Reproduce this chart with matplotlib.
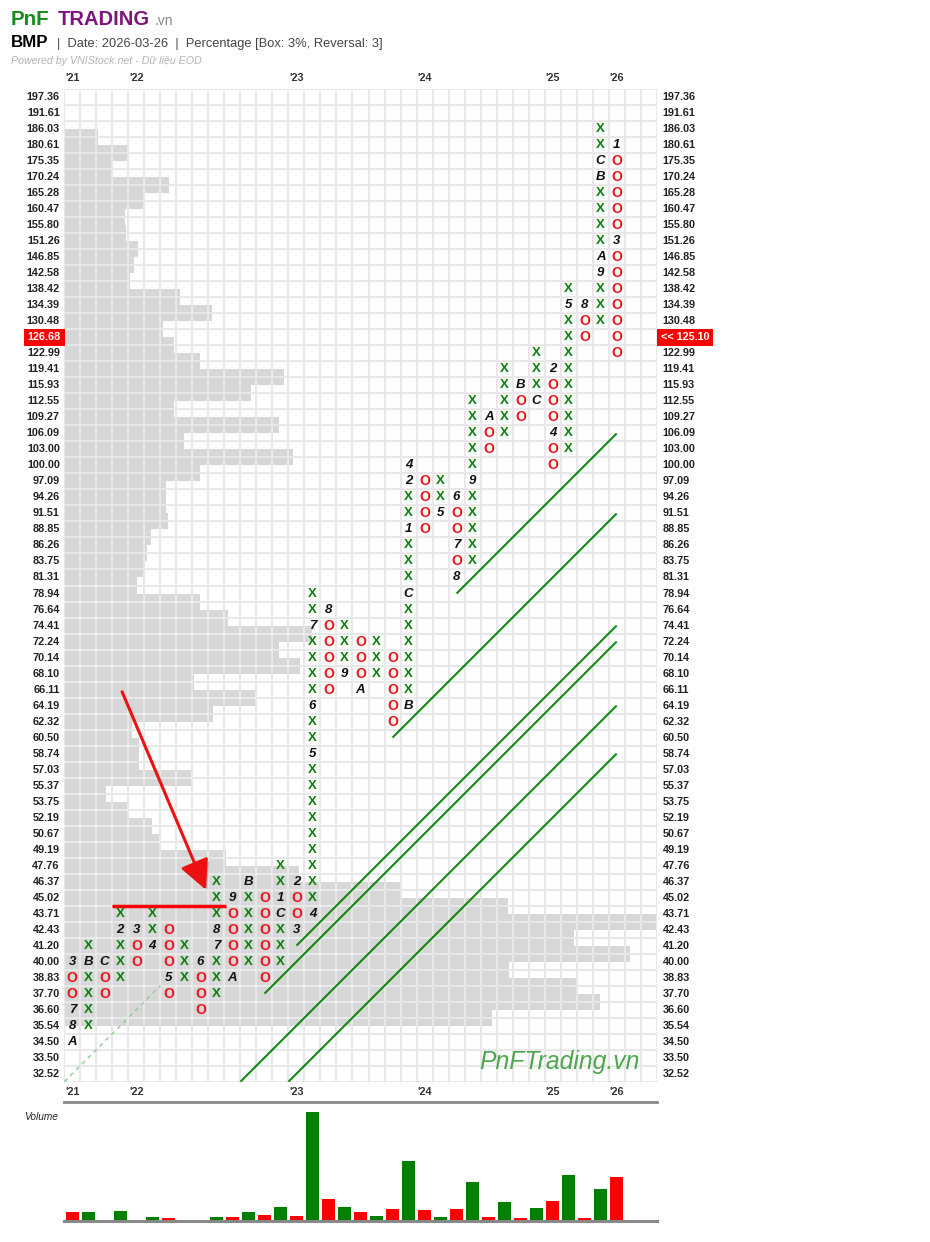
import matplotlib
matplotlib.use("Agg")
import matplotlib.pyplot as plt
import matplotlib.transforms as mtransforms
import matplotlib.patheffects as pe
import numpy as np

plt.rcParams['font.family'] = ['Liberation Sans', 'DejaVu Sans']

# ---------------- data ----------------
box_levels = [32.52, 33.50, 34.50, 35.54, 36.60, 37.70, 38.83, 40.00, 41.20, 42.43,
              43.71, 45.02, 46.37, 47.76, 49.19, 50.67, 52.19, 53.75, 55.37, 57.03,
              58.74, 60.50, 62.32, 64.19, 66.11, 68.10, 70.14, 72.24, 74.41, 76.64,
              78.94, 81.31, 83.75, 86.26, 88.85, 91.51, 94.26, 97.09, 100.00, 103.00,
              106.09, 109.27, 112.55, 115.93, 119.41, 122.99, 126.68, 130.48, 134.39, 138.42,
              142.58, 146.85, 151.26, 155.80, 160.47, 165.28, 170.24, 175.35, 180.61, 186.03,
              191.61, 197.36]

col_type = ['O', 'X', 'O', 'X', 'O', 'X', 'O', 'X', 'O', 'X',
            'O', 'X', 'O', 'X', 'O', 'X', 'O', 'X', 'O', 'X',
            'O', 'X', 'O', 'X', 'O', 'X', 'O', 'X', 'O', 'X',
            'O', 'X', 'O', 'X', 'O']
col_low = [34.50, 35.54, 37.70, 38.83, 40.00, 41.20, 37.70, 38.83, 36.60, 37.70,
           38.83, 40.00, 38.83, 40.00, 42.43, 43.71, 66.11, 68.10, 66.11, 68.10,
           62.32, 64.19, 88.85, 91.51, 81.31, 83.75, 103.00, 106.09, 109.27, 112.55,
           100.00, 103.00, 126.68, 130.48, 122.99]
col_high = [40.00, 41.20, 40.00, 43.71, 42.43, 43.71, 42.43, 41.20, 40.00, 46.37,
            45.02, 46.37, 45.02, 47.76, 46.37, 78.94, 76.64, 74.41, 72.24, 72.24,
            70.14, 100.00, 97.09, 97.09, 94.26, 112.55, 109.27, 119.41, 115.93, 122.99,
            119.41, 138.42, 134.39, 186.03, 180.61]

# month markers (column, price, label)
month_marks = [(0, 40.00, '3'), (0, 36.60, '7'), (0, 35.54, '8'), (0, 34.50, 'A'),
               (1, 40.00, 'B'), (2, 40.00, 'C'), (3, 42.43, '2'), (4, 42.43, '3'),
               (5, 41.20, '4'), (6, 38.83, '5'), (8, 40.00, '6'), (9, 41.20, '7'),
               (9, 42.43, '8'), (10, 45.02, '9'), (10, 38.83, 'A'), (11, 46.37, 'B'),
               (13, 43.71, 'C'), (13, 45.02, '1'), (14, 46.37, '2'), (14, 42.43, '3'),
               (15, 43.71, '4'), (15, 58.74, '5'), (15, 64.19, '6'), (15, 74.41, '7'),
               (16, 76.64, '8'), (17, 68.10, '9'), (18, 66.11, 'A'), (21, 64.19, 'B'),
               (21, 78.94, 'C'), (21, 88.85, '1'), (21, 97.09, '2'), (21, 100.00, '4'),
               (23, 91.51, '5'), (24, 94.26, '6'), (24, 86.26, '7'), (24, 81.31, '8'),
               (25, 97.09, '9'), (26, 109.27, 'A'), (28, 115.93, 'B'), (29, 112.55, 'C'),
               (30, 119.41, '2'), (30, 106.09, '4'), (31, 134.39, '5'), (32, 134.39, '8'),
               (33, 142.58, '9'), (33, 146.85, 'A'), (33, 170.24, 'B'), (33, 175.35, 'C'),
               (34, 180.61, '1'), (34, 151.26, '3')]

# volume profile: (upper price of the band, length in columns)
profile_price = [186.03, 180.61, 175.35, 170.24, 165.28, 160.47, 155.80, 151.26, 146.85, 142.58,
                 138.42, 134.39, 130.48, 126.68, 122.99, 119.41, 115.93, 112.55, 109.27, 106.09,
                 103.00, 100.00, 97.09, 94.26, 91.51, 88.85, 86.26, 83.75, 81.31, 78.94,
                 76.64, 74.41, 72.24, 70.14, 68.10, 66.11, 64.19, 62.32, 60.50, 58.74,
                 57.03, 55.37, 53.75, 52.19, 50.67, 49.19, 47.76, 46.37, 45.02, 43.71,
                 42.43, 41.20, 40.00, 38.83, 37.70, 36.60]
profile_len = [2.09, 3.98, 2.92, 6.55, 5.05, 3.79, 3.88, 4.59, 4.36, 4.11,
               7.25, 9.21, 6.17, 6.86, 8.48, 13.73, 11.63, 6.84, 13.38, 7.46,
               14.29, 8.48, 6.34, 6.34, 6.50, 5.42, 5.17, 4.98, 4.54, 8.48,
               10.23, 15.48, 13.44, 14.75, 8.11, 11.88, 9.27, 4.23, 4.65, 4.65,
               7.90, 2.60, 3.92, 5.50, 5.92, 10.11, 14.67, 21.00, 27.69, 37.00,
               31.86, 35.36, 27.79, 31.98, 33.46, 26.73]

# volume per column (relative units)
volume = [28, 27, 4, 29, 3, 11, 8, 2, 3, 11,
          11, 26, 17, 42, 14, 330, 66, 41, 27, 14,
          35, 183, 33, 11, 36, 117, 11, 56, 9, 39,
          60, 138, 9, 96, 134]

# trend lines (col0, row0, col1, row1) in grid units
trend_lines = [(24.0, 30.0, 34.0, 40.0), (20.0, 21.0, 34.0, 35.0), (14.0, 8.0, 34.0, 28.0),
               (12.0, 5.0, 34.0, 27.0), (10.5, -0.5, 34.0, 23.0), (13.5, -0.5, 34.0, 20.0)]

year_labels = ["'21", "'22", "'23", "'24", "'25", "'26"]
year_cols = [0, 4, 14, 22, 30, 34]

last_box = 126.68
last_price_label = "<< 125.10"

# ---------------- figure ----------------
W, H = 930, 1242
fig = plt.figure(figsize=(W / 100, H / 100), dpi=100)
fig.patch.set_facecolor('white')


def fx(px):
    return px / W


def fy(py):
    return 1 - py / H


GL, GR, GT, GB = 64.3, 656.7, 89.3, 1081.7
ax = fig.add_axes([fx(GL), fy(GB), (GR - GL) / W, (GB - GT) / H])
ncols, nrows = 37, len(box_levels)
ax.set_xlim(-0.5, ncols - 0.5)
ax.set_ylim(-0.5, nrows - 0.5)
ax.axis('off')

levels = np.array(box_levels)


def row_of(p):
    return int(np.argmin(np.abs(levels - p)))


GREEN = '#0a820a'
RED = '#ee1111'

# volume profile
prow = [row_of(p) - 0.5 for p in profile_price]
ax.barh(prow, profile_len, height=1.0, left=-0.5, color='#d7d7d7', zorder=1, linewidth=0)

# grid
ax.hlines(np.arange(-0.5, nrows, 1), -0.5, ncols - 0.5, color='#e8e8e8', lw=1.5, zorder=2)
ax.vlines(np.arange(-0.5, ncols, 1), -0.5, nrows - 0.5, color='#e8e8e8', lw=1.5, zorder=2)

# trend lines
for (c0, r0, c1, r1) in trend_lines:
    ax.plot([c0, c1], [r0, r1], color='#108a10', lw=1.5, zorder=3, solid_capstyle='butt')
ax.plot([-0.5, 5.5], [-0.5, 5.5], color='#8ccc8c', lw=1.0, ls=(0, (3, 3)), zorder=3)

# X / O columns
marks = {(c, row_of(p)): lab for (c, p, lab) in month_marks}
for c, t in enumerate(col_type):
    r0, r1 = row_of(col_low[c]), row_of(col_high[c])
    for r in range(r0, r1 + 1):
        if (c, r) in marks:
            ax.text(c, r, marks[(c, r)], ha='center', va='center', fontsize=9.5,
                    fontweight='bold', fontstyle='italic', color='#111', zorder=5)
        elif t == 'X':
            ax.text(c, r, 'X', ha='center', va='center', fontsize=9.5,
                    fontweight='bold', color=GREEN, zorder=5)
        else:
            ax.text(c, r, 'O', ha='center', va='center', fontsize=10,
                    fontweight='bold', color=RED, zorder=5)

# red support line and arrow
ax.plot([2.5, 9.6], [10.5, 10.5], color='#ff0000', lw=2.5, zorder=4, solid_capstyle='butt')
ann = ax.annotate('', xy=(8.34, 11.49), xytext=(3.11, 23.86),
                  arrowprops=dict(arrowstyle='-|>,head_length=0.9,head_width=0.45',
                                  color='#ee1111', lw=2.2, mutation_scale=20,
                                  shrinkA=0, shrinkB=0), zorder=4)
ann.arrow_patch.set_path_effects([pe.SimplePatchShadow(offset=(2, -2), alpha=0.25), pe.Normal()])

# y labels
tl = mtransforms.offset_copy(ax.transData, fig=fig, x=-4.5, y=0, units='dots')
tr = mtransforms.offset_copy(ax.transData, fig=fig, x=6.0, y=0, units='dots')
cur = row_of(last_box)
for r, v in enumerate(box_levels):
    if r == cur:
        continue
    ax.text(-0.5, r, f"{v:.2f}", transform=tl, ha='right', va='center',
            fontsize=7.8, fontweight='bold', color='#222')
    ax.text(ncols - 0.5, r, f"{v:.2f}", transform=tr, ha='left', va='center',
            fontsize=7.8, fontweight='bold', color='#222')

tl2 = mtransforms.offset_copy(ax.transData, fig=fig, x=-3.5, y=0, units='dots')
tr2 = mtransforms.offset_copy(ax.transData, fig=fig, x=4.0, y=0, units='dots')
ax.text(-0.5, cur, f"{last_box:.2f}", transform=tl2, ha='right', va='center',
        fontsize=7.8, fontweight='bold', color='white', zorder=6,
        bbox=dict(boxstyle='square,pad=0.35', fc='#ff0000', ec='none'))
ax.text(ncols - 0.5, cur, last_price_label, transform=tr2, ha='left', va='center',
        fontsize=7.8, fontweight='bold', color='white', zorder=6,
        bbox=dict(boxstyle='square,pad=0.35', fc='#ff0000', ec='none'))

# year labels top / bottom
ttop = mtransforms.blended_transform_factory(ax.transData, fig.transFigure)
for lab, c in zip(year_labels, year_cols):
    ax.text(c, fy(78), lab, transform=ttop, ha='center', va='center',
            fontsize=7.8, fontweight='bold', color='#333')
    ax.text(c, fy(1092), lab, transform=ttop, ha='center', va='center',
            fontsize=7.8, fontweight='bold', color='#333')

# watermark
fig.text(fx(479), fy(1062), 'PnFTrading.vn', ha='left', va='center', fontsize=17.8,
         fontstyle='italic', color='#4ea64e')

# ---------------- volume panel ----------------
VT, VB = 1102, 1221
vax = fig.add_axes([fx(GL), fy(VB), (GR - GL) / W, (VB - VT) / H])
vax.set_xlim(-0.5, ncols - 0.5)
vax.set_ylim(0, 360)
vax.axis('off')
vcolors = ['#008000' if t == 'X' else '#ff0000' for t in col_type]
vax.bar(np.arange(len(volume)), volume, width=0.84, color=vcolors, linewidth=0)
vax.axhline(360, color='#888888', lw=2, clip_on=False)
vax.axhline(0, color='#888888', lw=2.2, clip_on=False)
fig.text(fx(24), fy(1117), 'Volume', ha='left', va='center', fontsize=7.3,
         fontstyle='italic', color='#222')

# ---------------- header ----------------
fig.text(fx(11), fy(25), 'PnF', fontsize=14.8, fontweight='bold', color='#178a17', va='baseline')
fig.text(fx(58), fy(25), 'TRADING', fontsize=14.5, fontweight='bold', color='#7d157d', va='baseline')
fig.text(fx(155), fy(25), '.vn', fontsize=10, color='#888888', va='baseline')
fig.text(fx(11), fy(47), 'BMP', fontsize=12.2, fontweight='bold', color='#000', va='baseline')
fig.text(fx(57), fy(47), '|  Date: 2026-03-26  |  Percentage [Box: 3%, Reversal: 3]',
         fontsize=9.3, color='#444444', va='baseline')
fig.text(fx(11), fy(64.5), 'Powered by VNIStock.net - Dữ liệu EOD', fontsize=7.7,
         fontstyle='italic', color='#b3b3b3', va='baseline')

fig.savefig('out.png', dpi=100, facecolor='white')
